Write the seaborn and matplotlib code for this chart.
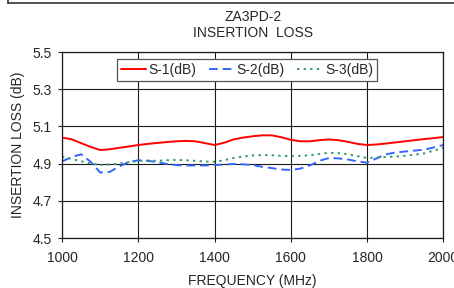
import numpy as np
import pandas as pd
import matplotlib
matplotlib.use('Agg')
import matplotlib.pyplot as plt
from matplotlib.lines import Line2D
import seaborn as sns

# Values (25 MHz steps)
freq = list(range(1000, 2001, 25))

s1 = [5.040, 5.031, 5.010, 4.990, 4.973, 4.977, 4.985, 4.992, 5.000, 5.006,
      5.011, 5.016, 5.020, 5.022, 5.020, 5.010, 5.000, 5.012, 5.030, 5.040,
      5.047, 5.052, 5.052, 5.042, 5.028, 5.020, 5.020, 5.026, 5.030, 5.026,
      5.017, 5.006, 5.000, 5.003, 5.008, 5.014, 5.020, 5.026, 5.032, 5.037,
      5.043]

s2 = [4.912, 4.935, 4.950, 4.910, 4.852, 4.855, 4.885, 4.908, 4.918, 4.915,
      4.908, 4.898, 4.892, 4.890, 4.890, 4.890, 4.892, 4.895, 4.898, 4.896,
      4.892, 4.883, 4.876, 4.868, 4.866, 4.873, 4.890, 4.915, 4.930, 4.928,
      4.922, 4.912, 4.905, 4.928, 4.950, 4.960, 4.965, 4.970, 4.975, 4.987,
      5.000]

s3 = [4.938, 4.925, 4.913, 4.900, 4.893, 4.895, 4.900, 4.908, 4.915, 4.916,
      4.915, 4.918, 4.920, 4.918, 4.915, 4.911, 4.910, 4.918, 4.930, 4.938,
      4.944, 4.946, 4.945, 4.942, 4.940, 4.942, 4.945, 4.952, 4.958, 4.956,
      4.950, 4.940, 4.930, 4.932, 4.936, 4.938, 4.942, 4.948, 4.955, 4.970,
      4.985]

series_names = ['S-1(dB)', 'S-2(dB)', 'S-3(dB)']
x_ticks = [1000, 1200, 1400, 1600, 1800, 2000]
y_ticks = [4.5, 4.7, 4.9, 5.1, 5.3, 5.5]

sns.set_style("white")
plt.rcParams['font.family'] = ['Liberation Sans', 'DejaVu Sans']
plt.rcParams['font.size'] = 10

fig = plt.figure(figsize=(4.54, 2.88), dpi=100)
ax = fig.add_axes([0.1366, 0.1736, 0.8398, 0.6458])

styles = [
    ('#ff0000', None),
    ('#3366ff', (0, (4.5, 2.5))),
    ('#339966', (0, (1.2, 2.2))),
]
for vals, name, (col, dashes) in zip([s1, s2, s3], series_names, styles):
    d = pd.DataFrame({'freq': freq, 'loss': vals})
    sns.lineplot(data=d, x='freq', y='loss', ax=ax, color=col,
                 linewidth=1.4, label=name)
    if dashes is not None:
        ax.lines[-1].set_linestyle(dashes)

ax.set_xlim(1000, 2000)
ax.set_ylim(4.5, 5.5)
ax.set_xticks(x_ticks)
ax.set_yticks(y_ticks)
ax.set_yticklabels([f'{v:.1f}' for v in y_ticks])
ax.grid(True, color='#1a1a1a', linewidth=0.8)
ax.set_axisbelow(True)
for sp in ax.spines.values():
    sp.set_color('#1a1a1a')
    sp.set_linewidth(0.9)
ax.tick_params(axis='both', direction='out', length=3, width=0.8,
               color='#1a1a1a', labelsize=10, left=True, bottom=True)
ax.tick_params(axis='x', pad=6)
ax.tick_params(axis='y', pad=4.5)

ax.set_xlabel('FREQUENCY (MHz)', fontsize=10, labelpad=6.5)
ax.set_ylabel('INSERTION LOSS (dB)', fontsize=10, labelpad=5)
ax.set_title('ZA3PD-2\nINSERTION  LOSS', fontsize=10, pad=10.5, linespacing=1.2)

leg = ax.legend(loc='center', bbox_to_anchor=(0.485, 0.903), ncol=3,
                frameon=True, fancybox=False, fontsize=10, handlelength=1.8,
                handletextpad=0.2, columnspacing=0.9, borderpad=0.3)
leg.get_frame().set_edgecolor('#555555')
leg.get_frame().set_linewidth(0.9)
leg.get_frame().set_facecolor('white')
leg.get_frame().set_alpha(1)

# frame edge visible at the top of the image
fig.add_artist(Line2D([0.0176, 1.0], [0.991, 0.991], color='#333333',
                      linewidth=1.2, transform=fig.transFigure))
fig.add_artist(Line2D([0.0176, 0.0176], [0.991, 1.0], color='#333333',
                      linewidth=1.2, transform=fig.transFigure))

fig.savefig('out.png', dpi=100)
